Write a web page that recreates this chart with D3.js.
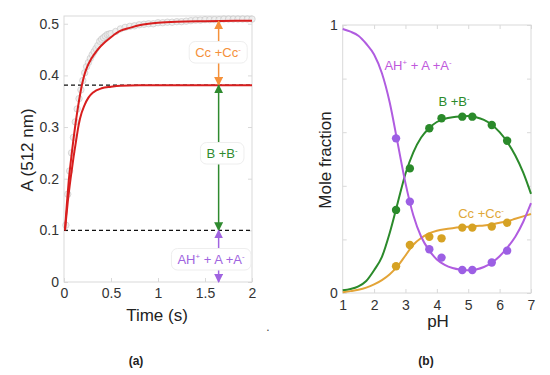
<!DOCTYPE html>
<html>
<head>
<meta charset="utf-8">
<script src="https://cdn.jsdelivr.net/npm/d3@7"></script>
<style>
  html, body { margin: 0; padding: 0; background: #fff; }
  svg { display: block; }
  text { font-family: "Liberation Sans", Arial, sans-serif; }
</style>
</head>
<body>
<svg id="chart" width="550" height="375"></svg>
<script>
// ---------- Panel (a) data ----------
const timeTicks = [0, 0.5, 1, 1.5, 2];
const absTicks = [0, 0.1, 0.2, 0.3, 0.4, 0.5];
const rawTime = [0.02,0.04,0.06,0.08,0.10,0.12,0.14,0.16,0.18,0.20,0.22,0.24,0.26,0.28,0.30,0.32,0.34,0.36,0.38,0.40,0.42,0.44,0.46,0.48,0.50,0.55,0.60,0.65,0.70,0.75,0.80,0.85,0.90,0.95,1.00,1.05,1.10,1.15,1.20,1.25,1.30,1.35,1.40,1.45,1.50,1.55,1.60,1.65,1.70,1.75,1.80,1.85,1.90,1.95,2.00];
const rawAbs = [0.11,0.17,0.215,0.25,0.28,0.31,0.335,0.355,0.372,0.39,0.405,0.417,0.425,0.433,0.44,0.446,0.452,0.458,0.466,0.470,0.473,0.476,0.479,0.480,0.481,0.485,0.490,0.493,0.495,0.496,0.498,0.499,0.500,0.500,0.502,0.502,0.503,0.503,0.504,0.504,0.505,0.506,0.507,0.507,0.508,0.508,0.508,0.508,0.509,0.509,0.509,0.509,0.509,0.509,0.509];
const fitUpperTime = [0.01,0.03,0.05,0.08,0.10,0.12,0.15,0.19,0.215,0.25,0.29,0.35,0.44,0.50,0.61,0.70,0.80,0.90,1.00,1.20,1.50,2.00];
const fitUpperAbs  = [0.100,0.150,0.195,0.245,0.275,0.303,0.340,0.381,0.400,0.418,0.432,0.448,0.465,0.474,0.487,0.492,0.497,0.500,0.502,0.504,0.505,0.506];
const fitLowerTime = [0.01,0.04,0.07,0.10,0.13,0.15,0.17,0.22,0.26,0.31,0.40,0.50,0.60,0.80,1.00,2.00];
const fitLowerAbs  = [0.100,0.155,0.200,0.240,0.275,0.298,0.316,0.343,0.357,0.367,0.375,0.378,0.380,0.381,0.381,0.381];
const levelTop = 0.505, levelMid = 0.381, levelLow = 0.1, levelZero = 0;
const arrowTime = 1.645;

// ---------- Panel (b) data ----------
const phTicks = [1, 2, 3, 4, 5, 6, 7];
const fracTicks = [0, 0.2, 0.4, 0.6, 0.8, 1];
const fracLabels = [0, 1];
const phGrid = [1.0,1.25,1.5,1.75,2.0,2.25,2.5,2.75,3.0,3.25,3.5,3.75,4.0,4.25,4.5,4.75,5.0,5.25,5.5,5.75,6.0,6.25,6.5,6.75,7.0];
const purpleCurve = [0.985,0.975,0.96,0.93,0.89,0.82,0.71,0.56,0.41,0.29,0.21,0.16,0.125,0.105,0.093,0.087,0.085,0.088,0.097,0.113,0.137,0.170,0.21,0.265,0.335];
const greenCurve  = [0.01,0.015,0.025,0.045,0.085,0.135,0.225,0.335,0.445,0.525,0.58,0.615,0.638,0.65,0.656,0.659,0.66,0.656,0.646,0.628,0.60,0.562,0.513,0.45,0.37];
const orangeCurve = [0.003,0.007,0.012,0.02,0.032,0.048,0.07,0.10,0.14,0.18,0.205,0.222,0.232,0.238,0.242,0.245,0.247,0.25,0.252,0.256,0.262,0.268,0.277,0.286,0.295];
const phPoints = [2.70, 3.14, 3.76, 4.15, 4.81, 5.13, 5.75, 6.24];
const purplePts = [0.577, 0.341, 0.163, 0.132, 0.086, 0.086, 0.114, 0.158];
const greenPts  = [0.31, 0.465, 0.615, 0.652, 0.658, 0.658, 0.627, 0.568];
const orangePts = [0.10, 0.179, 0.21, 0.204, 0.244, 0.244, 0.248, 0.262];

// ---------- Drawing ----------
const svg = d3.select("#chart");
const frameColor = "#d9d9d9";

function frame(g, x, y) {
  const [x0, x1] = x.range(), [y0, y1] = y.range();
  g.append("rect").attr("x", x0).attr("y", y1).attr("width", x1 - x0).attr("height", y0 - y1)
    .attr("fill", "none").attr("stroke", frameColor).attr("stroke-width", 1);
}
function styleAxis(sel, fs) {
  sel.select(".domain").remove();
  sel.selectAll(".tick line").attr("stroke", frameColor);
  sel.selectAll(".tick text").attr("fill", "#333").attr("font-size", fs)
    .attr("font-family", "'Liberation Sans', Arial, sans-serif");
  sel.selectAll(".tick text").filter(function () { return this.textContent === ""; }).remove();
}

// defs for arrowheads
const defs = svg.append("defs");
function marker(id, color) {
  defs.append("marker").attr("id", id).attr("viewBox", "0 0 10 10")
    .attr("refX", 9).attr("refY", 5).attr("markerWidth", 9).attr("markerHeight", 9)
    .attr("markerUnits", "userSpaceOnUse").attr("orient", "auto-start-reverse")
    .append("path").attr("d", "M0,0 L10,5 L0,10 Z").attr("fill", color);
}
const cOrangeA = "#f5913a", cGreenA = "#2f8a2f", cPurpleA = "#a064e0";
marker("arO", cOrangeA); marker("arG", cGreenA); marker("arP", cPurpleA);

// ----- Panel (a)
const xA = d3.scaleLinear().domain([0, 2]).range([64, 252]);
const yA = d3.scaleLinear().domain([0, 0.515]).range([282, 16]);
const gA = svg.append("g");
frame(gA, xA, yA);
gA.append("g").attr("transform", `translate(0,${yA(0)})`)
  .call(d3.axisBottom(xA).tickValues(timeTicks).tickFormat(d3.format("")).tickSizeInner(-4).tickSizeOuter(0).tickPadding(6))
  .call(s => styleAxis(s, 14));
gA.append("g").attr("transform", `translate(${xA(0)},0)`)
  .call(d3.axisLeft(yA).tickValues(absTicks).tickFormat(d3.format("")).tickSizeInner(-4).tickSizeOuter(0).tickPadding(5))
  .call(s => styleAxis(s, 14));
gA.append("g").attr("transform", `translate(${xA(2)},0)`)
  .call(d3.axisRight(yA).tickValues(absTicks).tickFormat("").tickSizeInner(-4).tickSizeOuter(0))
  .call(s => styleAxis(s, 14));

// gray raw data
const rawData = rawTime.map((t, i) => [t, rawAbs[i]]);
gA.append("g").selectAll("circle").data(rawData).join("circle")
  .attr("cx", d => xA(d[0])).attr("cy", d => yA(d[1])).attr("r", 3.2)
  .attr("fill", "#ededed").attr("stroke", "#c4c4c4").attr("stroke-width", 0.8).attr("opacity", 0.8);

// dashed levels
[levelMid, levelLow].forEach(v => {
  gA.append("line").attr("x1", xA(0)).attr("x2", xA(2)).attr("y1", yA(v)).attr("y2", yA(v))
    .attr("stroke", "#111").attr("stroke-width", 1.2).attr("stroke-dasharray", "4,3");
});

// fitted curves
const lineA = d3.line().x(d => xA(d[0])).y(d => yA(d[1])).curve(d3.curveMonotoneX);
gA.append("path").datum(fitUpperTime.map((t, i) => [t, fitUpperAbs[i]]))
  .attr("d", lineA).attr("fill", "none").attr("stroke", "#d81e1e").attr("stroke-width", 2);
gA.append("path").datum(fitLowerTime.map((t, i) => [t, fitLowerAbs[i]]))
  .attr("d", lineA).attr("fill", "none").attr("stroke", "#d81e1e").attr("stroke-width", 2);

// arrows
function arrow(v1, v2, color, id) {
  gA.append("line").attr("x1", xA(arrowTime)).attr("x2", xA(arrowTime))
    .attr("y1", yA(v1)).attr("y2", yA(v2)).attr("stroke", color).attr("stroke-width", 1.5)
    .attr("marker-start", `url(#${id})`).attr("marker-end", `url(#${id})`);
}
arrow(levelTop, levelMid, cOrangeA, "arO");
arrow(levelMid, levelLow, cGreenA, "arG");
arrow(levelLow, levelZero, cPurpleA, "arP");

function richLabel(g, x, y, parts, color, fs, box) {
  const grp = g.append("g");
  const t = grp.append("text").attr("x", x).attr("y", y).attr("text-anchor", "middle")
    .attr("font-size", fs).attr("fill", color);
  let raised = false;
  parts.forEach(p => {
    if (p.sup) {
      t.append("tspan").attr("font-size", fs * 0.6).attr("dy", -fs * 0.42).text(p.sup);
      raised = true;
    } else {
      const ts = t.append("tspan").text(p.t);
      if (raised) { ts.attr("dy", fs * 0.42); raised = false; }
    }
  });
  if (box) {
    const bb = t.node().getBBox();
    grp.insert("rect", "text").attr("x", bb.x - 6).attr("y", bb.y - 3)
      .attr("width", bb.width + 12).attr("height", bb.height + 6).attr("rx", 6)
      .attr("fill", "#fff").attr("stroke", "#eeeeee").attr("stroke-width", 1);
  }
}
richLabel(gA, 218, 57, [{t: "Cc +Cc"}, {sup: "-"}], cOrangeA, 13, true);
richLabel(gA, 222, 158, [{t: "B +B"}, {sup: "-"}], cGreenA, 13, true);
richLabel(gA, 211, 264, [{t: "AH"}, {sup: "+"}, {t: " + A +A"}, {sup: "-"}], cPurpleA, 13, true);

svg.append("text").attr("x", 157).attr("y", 321).attr("text-anchor", "middle")
  .attr("font-size", 17).attr("fill", "#222").text("Time (s)");
svg.append("text").attr("transform", "translate(33,150) rotate(-90)").attr("text-anchor", "middle")
  .attr("font-size", 17).attr("fill", "#222").text("A (512 nm)");
svg.append("text").attr("x", 136).attr("y", 365).attr("text-anchor", "middle")
  .attr("font-size", 12).attr("font-weight", "bold").attr("font-family", "'Liberation Serif', 'DejaVu Serif', serif")
  .attr("fill", "#222").text("(a)");
svg.append("text").attr("x", 268).attr("y", 331).attr("text-anchor", "middle")
  .attr("font-size", 12).attr("fill", "#444").text(".");

// ----- Panel (b)
const xB = d3.scaleLinear().domain([1, 7]).range([342.7, 531]);
const yB = d3.scaleLinear().domain([0, 1]).range([293, 25]);
const gB = svg.append("g");
frame(gB, xB, yB);
gB.append("g").attr("transform", `translate(0,${yB(0)})`)
  .call(d3.axisBottom(xB).tickValues(phTicks).tickFormat(d3.format("d")).tickSizeInner(-4).tickSizeOuter(0).tickPadding(7))
  .call(s => styleAxis(s, 14));
gB.append("g").attr("transform", `translate(0,${yB(1)})`)
  .call(d3.axisTop(xB).tickValues(phTicks).tickFormat("").tickSizeInner(-4).tickSizeOuter(0))
  .call(s => styleAxis(s, 14));
gB.append("g").attr("transform", `translate(${xB(1)},0)`)
  .call(d3.axisLeft(yB).tickValues(fracTicks).tickFormat(d => fracLabels.includes(d) ? d3.format("d")(d) : "")
    .tickSizeInner(-4).tickSizeOuter(0).tickPadding(5))
  .call(s => styleAxis(s, 14));
gB.append("g").attr("transform", `translate(${xB(7)},0)`)
  .call(d3.axisRight(yB).tickValues(fracTicks).tickFormat("").tickSizeInner(-4).tickSizeOuter(0))
  .call(s => styleAxis(s, 14));

const lineB = d3.line().x(d => xB(d[0])).y(d => yB(d[1])).curve(d3.curveMonotoneX);
const series = [
  {curve: greenCurve, pts: greenPts, line: "#2b8a2b", dot: "#2a8a2a"},
  {curve: orangeCurve, pts: orangePts, line: "#e3a437", dot: "#d6a224"},
  {curve: purpleCurve, pts: purplePts, line: "#b05ce0", dot: "#9c5fe4"}
];
series.forEach(s => {
  gB.append("path").datum(phGrid.map((p, i) => [p, s.curve[i]]))
    .attr("d", lineB).attr("fill", "none").attr("stroke", s.line).attr("stroke-width", 2);
});
series.forEach(s => {
  gB.append("g").selectAll("circle").data(phPoints.map((p, i) => [p, s.pts[i]])).join("circle")
    .attr("cx", d => xB(d[0])).attr("cy", d => yB(d[1])).attr("r", 4.2).attr("fill", s.dot);
});

richLabel(gB, 418, 70, [{t: "AH"}, {sup: "+"}, {t: " + A +A"}, {sup: "-"}], "#c058dc", 13, false);
richLabel(gB, 454, 106, [{t: "B +B"}, {sup: "-"}], "#2b8a2b", 13, false);
richLabel(gB, 481, 218, [{t: "Cc +Cc"}, {sup: "-"}], "#e0a838", 13, false);

svg.append("text").attr("x", 438).attr("y", 327).attr("text-anchor", "middle")
  .attr("font-size", 17).attr("fill", "#222").text("pH");
svg.append("text").attr("transform", "translate(331,160) rotate(-90)").attr("text-anchor", "middle")
  .attr("font-size", 17).attr("fill", "#222").text("Mole fraction");
svg.append("text").attr("x", 426).attr("y", 365).attr("text-anchor", "middle")
  .attr("font-size", 12).attr("font-weight", "bold").attr("font-family", "'Liberation Serif', 'DejaVu Serif', serif")
  .attr("fill", "#222").text("(b)");
</script>
</body>
</html>
